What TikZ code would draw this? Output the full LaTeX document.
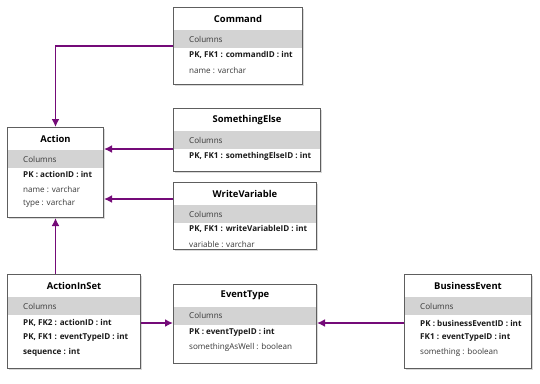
\documentclass[tikz,border=0pt]{standalone}
\usepackage{fontspec}
\setmainfont{Open Sans}
\usetikzlibrary{arrows.meta,shadows,calc}
\definecolor{fkpurple}{HTML}{740A78}
\definecolor{bandgray}{HTML}{D3D3D3}
\definecolor{boxline}{HTML}{5E5E5E}
\definecolor{txt}{HTML}{1A1A1A}
\definecolor{plaintxt}{HTML}{383838}
\tikzset{
  tblbox/.style={draw=boxline, line width=1pt, fill=white, rectangle, inner sep=0pt, anchor=north west,
    drop shadow={shadow xshift=1pt, shadow yshift=-1pt, opacity=0.3}},
  bandfill/.style={fill=bandgray},
  titletext/.style={font=\fontsize{9.4}{11}\selectfont\bfseries, text=black, inner sep=0pt},
  rowtext/.style={font=\fontsize{8.1}{9}\selectfont, text=plaintxt, inner sep=0pt, anchor=west},
  keytext/.style={font=\fontsize{8.1}{9}\selectfont\bfseries, text=txt, inner sep=0pt, anchor=west},
  fk/.style={draw=fkpurple, line width=1.7pt, -{Latex[length=8pt,width=8pt]}}
}
\newcommand\ertable[6]{%
  \node[tblbox, minimum width=#4pt, minimum height=#5pt] (#1) at (#2,#3) {};
  \fill[bandfill] ([xshift=1pt,yshift=-23pt]#1.north west) rectangle ([xshift=-1.5pt,yshift=-41pt]#1.north east);
  \node[titletext] (#1-title) at ([yshift=-12pt]#1.north) {#6};
  \node[rowtext] (#1-cols) at ([xshift=16pt,yshift=-32pt]#1.north west) {Columns};
}
\newcommand\errow[5]{% table, rowname, offset, style, text
  \node[#4] (#1-#2) at ([xshift=16pt,yshift=-#3pt]#1.north west) {#5};
}
\begin{document}
\begin{tikzpicture}[x=1pt,y=-1pt]
\useasboundingbox (0,0) rectangle (540,383);
% tables
\ertable{cmd}{173}{7}{129}{77}{Command}
\errow{cmd}{a}{48}{keytext}{PK, FK1 : commandID : int}
\errow{cmd}{b}{63}{rowtext}{name : varchar}

\ertable{act}{7}{127}{96}{90}{Action}
\errow{act}{a}{47}{keytext}{PK : actionID : int}
\errow{act}{b}{62}{rowtext}{name : varchar}
\errow{act}{c}{76}{rowtext}{type : varchar}

\ertable{se}{173}{108}{147}{63}{SomethingElse}
\errow{se}{a}{48}{keytext}{PK, FK1 : somethingElseID : int}

\ertable{wv}{173}{182}{143}{67}{WriteVariable}
\errow{wv}{a}{47}{keytext}{PK, FK1 : writeVariableID : int}
\errow{wv}{b}{62}{rowtext}{variable : varchar}

\ertable{ais}{7}{274}{133}{94}{ActionInSet}
\errow{ais}{a}{49}{keytext}{PK, FK2 : actionID : int}
\errow{ais}{b}{63.5}{keytext}{PK, FK1 : eventTypeID : int}
\errow{ais}{c}{78}{keytext}{sequence : int}

\ertable{et}{173}{283.5}{143}{79}{EventType}
\errow{et}{a}{49}{keytext}{PK : eventTypeID : int}
\errow{et}{b}{64}{rowtext}{somethingAsWell : boolean}

\ertable{be}{404}{274}{127}{94}{BusinessEvent}
\errow{be}{a}{49}{keytext}{PK : businessEventID : int}
\errow{be}{b}{63.5}{keytext}{FK1 : eventTypeID : int}
\errow{be}{c}{78}{rowtext}{something : boolean}

% connectors
\draw[fk] ([yshift=-39pt]cmd.north west) -| (act.north);
\draw[fk] ([yshift=-41pt]se.north west) coordinate (seA) -- (seA -| act.east);
\draw[fk] ([yshift=-17pt]wv.north west) coordinate (wvA) -- (wvA -| act.east);
\draw[fk] (act.south |- ais.north) -- (act.south);
\draw[fk] ([yshift=-49pt]ais.north east) coordinate (aisA) -- (aisA -| et.west);
\draw[fk] ([yshift=-49pt]be.north west) coordinate (beA) -- (beA -| et.east);
\end{tikzpicture}
\end{document}
